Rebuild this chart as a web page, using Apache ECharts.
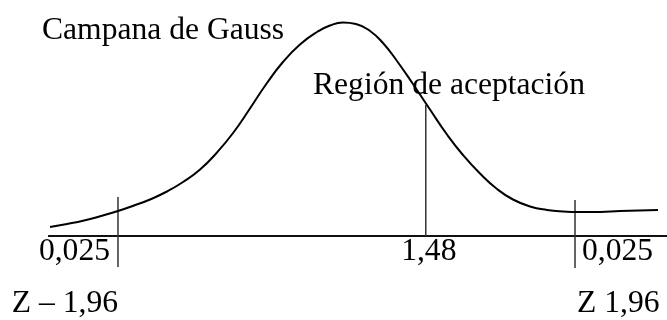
<!DOCTYPE html>
<html>
<head>
<meta charset="utf-8">
<script src="https://cdn.jsdelivr.net/npm/echarts@6/dist/echarts.min.js"></script>
<style>
  html, body { margin: 0; padding: 0; background: #fff; }
  #chart { width: 667px; height: 320px; }
</style>
</head>
<body>
<div id="chart"></div>
<script>
// curve: z position and density height
const curveZ = [-2.543, -2.397, -2.251, -2.106, -1.96, -1.823, -1.685, -1.54, -1.402, -1.256,
    -1.111, -0.973, -0.828, -0.682, -0.545, -0.399, -0.253, -0.142, -0.03, 0.081,
    0.202, 0.313, 0.433, 0.57, 0.716, 0.862, 0.999, 1.145, 1.291, 1.428,
    1.574, 1.72, 1.857, 2.003, 2.174, 2.346, 2.672];
const curveDensity = [0.018, 0.024, 0.031, 0.04, 0.05, 0.061, 0.073, 0.089, 0.108, 0.133,
    0.167, 0.206, 0.255, 0.306, 0.348, 0.383, 0.408, 0.421, 0.427, 0.424,
    0.41, 0.386, 0.35, 0.304, 0.253, 0.203, 0.162, 0.125, 0.094, 0.073,
    0.059, 0.052, 0.049, 0.048, 0.048, 0.05, 0.052];

// horizontal axis line
const axisExtent = [-2.56, 2.749];

// vertical marks
const markerZ = [-1.96, 0.68, 1.96];
const markerBottom = [-0.062, 0, -0.064];
const markerTop = [0.078, 0.262, 0.072];

// texts
const tickLabels = ['0,025', '1,48', '0,025'];
const zLabels = ['Z \u2013 1,96', 'Z 1,96'];
const titleText = 'Campana de Gauss';
const regionText = 'Región de aceptación';

const font = '31.6px "Liberation Serif", "Times New Roman", serif';

const chart = echarts.init(document.getElementById('chart'));

const series = [
    {
        name: 'curva',
        type: 'line',
        data: curveZ.map((z, i) => [z, curveDensity[i]]),
        smooth: 0.5,
        symbol: 'none',
        lineStyle: { color: '#000', width: 2 },
        z: 3
    },
    {
        name: 'eje',
        type: 'line',
        data: axisExtent.map(z => [z, 0]),
        symbol: 'none',
        lineStyle: { color: '#111', width: 2 },
        z: 2
    }
];
markerZ.forEach((z, i) => {
    series.push({
        name: 'marca' + i,
        type: 'line',
        data: [[z, markerBottom[i]], [z, markerTop[i]]],
        symbol: 'none',
        lineStyle: { color: '#333', width: 1.5 },
        z: 2
    });
});

chart.setOption({
    animation: false,
    grid: { left: 0, right: 0, top: 0, bottom: 0, containLabel: false },
    xAxis: { type: 'value', min: -2.972, max: 2.749, show: false },
    yAxis: { type: 'value', min: -0.168, max: 0.472, show: false },
    series: series
});

// place texts; tick labels hang off the vertical marks
const px = markerZ.map(z => chart.convertToPixel({ gridIndex: 0 }, [z, 0])[0]);
const text = (str, x, baseline, align) => ({
    type: 'text',
    style: {
        text: str,
        x: x,
        y: baseline - 9.6,
        font: font,
        fill: '#000',
        textAlign: align || 'left',
        textVerticalAlign: 'middle'
    }
});

chart.setOption({
    graphic: [
        text(titleText, 42, 40),
        text(regionText, 313, 95),
        text(tickLabels[0], px[0] - 8, 261, 'right'),
        text(tickLabels[1], px[1] + 3, 261, 'center'),
        text(tickLabels[2], px[2] + 7, 261),
        text(zLabels[0], px[0], 313, 'right'),
        text(zLabels[1], 577, 313)
    ]
});
</script>
</body>
</html>
